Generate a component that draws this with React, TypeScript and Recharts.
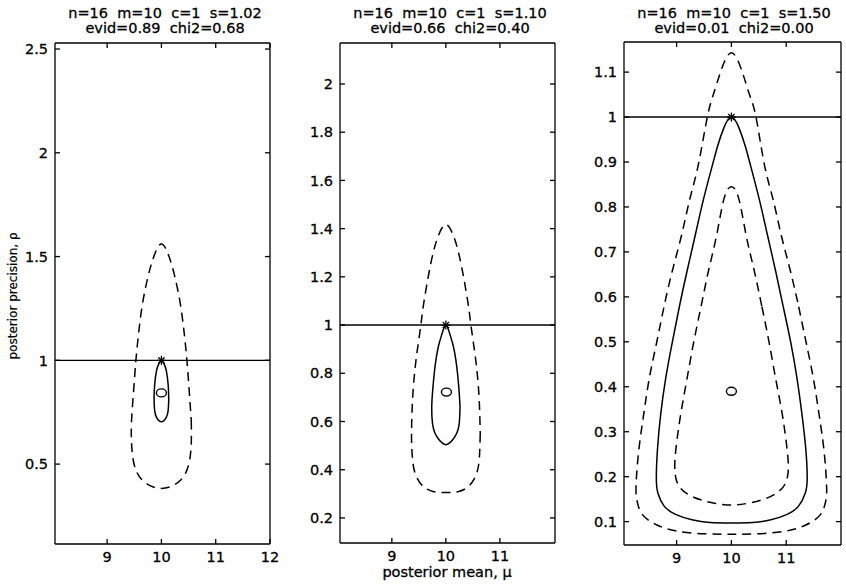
import React from 'react';
import { ScatterChart, Scatter, XAxis, YAxis, ReferenceLine } from 'recharts';

type Pt = { x: number; y: number };

const FONT = '"DejaVu Sans", sans-serif';

// ---- panel 1 : s=1.02 ----
const p1Title = ['n=16  m=10  c=1  s=1.02', 'evid=0.89  chi2=0.68'];
const p1Dashed: Pt[] = [
  { x: 10.55, y: 0.71 }, { x: 10.55, y: 0.6 }, { x: 10.52, y: 0.52 }, { x: 10.46, y: 0.465 },
  { x: 10.36, y: 0.425 }, { x: 10.2, y: 0.395 }, { x: 10.0, y: 0.383 }, { x: 9.8, y: 0.395 },
  { x: 9.64, y: 0.425 }, { x: 9.54, y: 0.465 }, { x: 9.48, y: 0.52 }, { x: 9.45, y: 0.6 },
  { x: 9.45, y: 0.71 }, { x: 9.49, y: 0.86 },
  { x: 9.53, y: 1.0 }, { x: 9.58, y: 1.13 }, { x: 9.65, y: 1.27 }, { x: 9.75, y: 1.4 },
  { x: 9.86, y: 1.5 }, { x: 10.0, y: 1.56 }, { x: 10.14, y: 1.5 }, { x: 10.25, y: 1.4 },
  { x: 10.35, y: 1.27 }, { x: 10.42, y: 1.13 }, { x: 10.47, y: 1.0 }, { x: 10.51, y: 0.86 },
  { x: 10.55, y: 0.71 },
];
const p1Solid: Pt[] = [
  { x: 10.135, y: 0.81 }, { x: 10.125, y: 0.76 }, { x: 10.09, y: 0.725 }, { x: 10.0, y: 0.704 },
  { x: 9.91, y: 0.725 }, { x: 9.875, y: 0.76 }, { x: 9.865, y: 0.81 }, { x: 9.875, y: 0.88 },
  { x: 9.91, y: 0.95 }, { x: 9.955, y: 0.985 }, { x: 10.0, y: 1.0 }, { x: 10.045, y: 0.985 },
  { x: 10.09, y: 0.95 }, { x: 10.125, y: 0.88 }, { x: 10.135, y: 0.81 },
];
const p1Star: Pt[] = [{ x: 10, y: 1 }];
const p1Mode: Pt[] = [{ x: 10, y: 0.843 }];
const p1XTicks = [9, 10, 11, 12];
const p1YTicks = [0.5, 1, 1.5, 2, 2.5];

// ---- panel 2 : s=1.10 ----
const p2Title = ['n=16  m=10  c=1  s=1.10', 'evid=0.66  chi2=0.40'];
const p2Dashed: Pt[] = [
  { x: 10.636, y: 0.55 }, { x: 10.62, y: 0.45 }, { x: 10.57, y: 0.385 }, { x: 10.44, y: 0.335 },
  { x: 10.24, y: 0.31 }, { x: 10.0, y: 0.305 }, { x: 9.76, y: 0.31 }, { x: 9.56, y: 0.335 },
  { x: 9.43, y: 0.385 }, { x: 9.38, y: 0.45 }, { x: 9.364, y: 0.55 }, { x: 9.383, y: 0.69 },
  { x: 9.42, y: 0.8 }, { x: 9.47, y: 0.894 }, { x: 9.537, y: 1.0 }, { x: 9.58, y: 1.076 },
  { x: 9.673, y: 1.2 }, { x: 9.765, y: 1.3 }, { x: 9.86, y: 1.37 }, { x: 10.0, y: 1.417 },
  { x: 10.14, y: 1.37 }, { x: 10.235, y: 1.3 }, { x: 10.327, y: 1.2 }, { x: 10.42, y: 1.076 },
  { x: 10.463, y: 1.0 }, { x: 10.53, y: 0.894 }, { x: 10.58, y: 0.8 }, { x: 10.617, y: 0.69 },
  { x: 10.636, y: 0.55 },
];
const p2Solid: Pt[] = [
  { x: 10.262, y: 0.66 }, { x: 10.247, y: 0.591 }, { x: 10.205, y: 0.553 }, { x: 10.13, y: 0.525 },
  { x: 10.0, y: 0.504 }, { x: 9.87, y: 0.525 }, { x: 9.795, y: 0.553 }, { x: 9.753, y: 0.591 },
  { x: 9.738, y: 0.66 }, { x: 9.76, y: 0.74 }, { x: 9.8, y: 0.83 }, { x: 9.86, y: 0.91 },
  { x: 9.93, y: 0.965 }, { x: 10.0, y: 1.0 }, { x: 10.07, y: 0.965 }, { x: 10.14, y: 0.91 },
  { x: 10.2, y: 0.83 }, { x: 10.24, y: 0.74 }, { x: 10.262, y: 0.66 },
];
const p2Star: Pt[] = [{ x: 10, y: 1 }];
const p2Mode: Pt[] = [{ x: 10.01, y: 0.722 }];
const p2XTicks = [9, 10, 11];
const p2YTicks = [0.2, 0.4, 0.6, 0.8, 1, 1.2, 1.4, 1.6, 1.8, 2];

// ---- panel 3 : s=1.50 ----
const p3Title = ['n=16  m=10  c=1  s=1.50', 'evid=0.01  chi2=0.00'];
const p3Outer: Pt[] = [
  { x: 11.228, y: 0.578 }, { x: 11.365, y: 0.498 }, { x: 11.497, y: 0.418 }, { x: 11.599, y: 0.339 },
  { x: 11.689, y: 0.259 }, { x: 11.737, y: 0.18 }, { x: 11.72, y: 0.145 }, { x: 11.62, y: 0.115 },
  { x: 11.35, y: 0.092 }, { x: 11.0, y: 0.079 }, { x: 10.5, y: 0.073 }, { x: 10.0, y: 0.072 },
  { x: 9.5, y: 0.073 }, { x: 9.0, y: 0.079 }, { x: 8.65, y: 0.092 }, { x: 8.38, y: 0.115 },
  { x: 8.28, y: 0.145 }, { x: 8.26, y: 0.18 }, { x: 8.31, y: 0.259 }, { x: 8.4, y: 0.339 },
  { x: 8.5, y: 0.418 }, { x: 8.635, y: 0.498 }, { x: 8.77, y: 0.578 }, { x: 8.92, y: 0.657 },
  { x: 9.09, y: 0.737 }, { x: 9.24, y: 0.817 }, { x: 9.4, y: 0.896 }, { x: 9.56, y: 1.0 },
  { x: 9.67, y: 1.05 }, { x: 9.79, y: 1.096 }, { x: 10.0, y: 1.143 }, { x: 10.21, y: 1.096 },
  { x: 10.33, y: 1.05 }, { x: 10.449, y: 1.0 }, { x: 10.599, y: 0.896 }, { x: 10.76, y: 0.817 },
  { x: 10.91, y: 0.737 }, { x: 11.078, y: 0.657 }, { x: 11.228, y: 0.578 },
];
const p3Solid: Pt[] = [
  { x: 10.946, y: 0.578 }, { x: 11.084, y: 0.498 }, { x: 11.198, y: 0.418 }, { x: 11.287, y: 0.339 },
  { x: 11.359, y: 0.259 }, { x: 11.383, y: 0.195 }, { x: 11.347, y: 0.163 }, { x: 11.228, y: 0.135 },
  { x: 11.018, y: 0.116 }, { x: 10.719, y: 0.104 }, { x: 10.389, y: 0.098 }, { x: 10.0, y: 0.097 },
  { x: 9.61, y: 0.098 }, { x: 9.28, y: 0.104 }, { x: 8.98, y: 0.116 }, { x: 8.77, y: 0.135 },
  { x: 8.66, y: 0.163 }, { x: 8.63, y: 0.195 }, { x: 8.65, y: 0.259 }, { x: 8.71, y: 0.339 },
  { x: 8.8, y: 0.418 }, { x: 8.92, y: 0.498 }, { x: 9.05, y: 0.578 }, { x: 9.19, y: 0.657 },
  { x: 9.34, y: 0.737 }, { x: 9.49, y: 0.817 }, { x: 9.66, y: 0.896 }, { x: 9.75, y: 0.936 },
  { x: 9.862, y: 0.976 }, { x: 10.0, y: 1.0 }, { x: 10.138, y: 0.976 }, { x: 10.251, y: 0.936 },
  { x: 10.341, y: 0.896 }, { x: 10.509, y: 0.817 }, { x: 10.659, y: 0.737 }, { x: 10.808, y: 0.657 },
  { x: 10.946, y: 0.578 },
];
const p3Inner: Pt[] = [
  { x: 10.557, y: 0.578 }, { x: 10.689, y: 0.498 }, { x: 10.808, y: 0.418 }, { x: 10.928, y: 0.339 },
  { x: 11.018, y: 0.259 }, { x: 11.036, y: 0.211 }, { x: 10.95, y: 0.178 }, { x: 10.7, y: 0.155 },
  { x: 10.35, y: 0.142 }, { x: 10.0, y: 0.137 }, { x: 9.65, y: 0.142 }, { x: 9.3, y: 0.155 },
  { x: 9.05, y: 0.178 }, { x: 8.97, y: 0.211 }, { x: 8.985, y: 0.259 }, { x: 9.075, y: 0.339 },
  { x: 9.19, y: 0.418 }, { x: 9.31, y: 0.498 }, { x: 9.445, y: 0.578 }, { x: 9.58, y: 0.657 },
  { x: 9.73, y: 0.737 }, { x: 9.862, y: 0.817 }, { x: 10.0, y: 0.845 }, { x: 10.138, y: 0.817 },
  { x: 10.269, y: 0.737 }, { x: 10.419, y: 0.657 }, { x: 10.557, y: 0.578 },
];
const p3Star: Pt[] = [{ x: 10, y: 1 }];
const p3Mode: Pt[] = [{ x: 10, y: 0.39 }];
const p3XTicks = [9, 10, 11];
const p3YTicks = [0.1, 0.2, 0.3, 0.4, 0.5, 0.6, 0.7, 0.8, 0.9, 1, 1.1];

const TICK_LEN = 5;
const X_GAP = 8; // axis line to top of x tick label
const Y_GAP = 7; // axis line to end of y tick label
const LINE = { stroke: '#000', strokeWidth: 1.3 };
const TEXT = {
  fill: '#000', stroke: '#000', strokeWidth: 0.3, fontSize: 14.5, fontFamily: FONT,
};

// MATLAB-style ticks: short marks pointing into the box
const BottomTick = (props: any) => {
  const { x, y, payload } = props;
  const axisY = y - X_GAP;
  return (
    <g>
      <line x1={x} y1={axisY} x2={x} y2={axisY - TICK_LEN} {...LINE} />
      <text x={x} y={y} dy="0.71em" textAnchor="middle" {...TEXT}>{payload.value}</text>
    </g>
  );
};
const LeftTick = (props: any) => {
  const { x, y, payload } = props;
  const axisX = x + Y_GAP;
  return (
    <g>
      <line x1={axisX} y1={y} x2={axisX + TICK_LEN} y2={y} {...LINE} />
      <text x={x} y={y} dy="0.36em" textAnchor="end" {...TEXT}>{payload.value}</text>
    </g>
  );
};
const TopTick = (props: any) => (
  <line x1={props.x} y1={props.y} x2={props.x} y2={props.y + TICK_LEN} {...LINE} />
);
const RightTick = (props: any) => (
  <line x1={props.x} y1={props.y} x2={props.x - TICK_LEN} y2={props.y} {...LINE} />
);

const NoDot = () => <g />;

const StarShape = (props: any) => {
  const { cx, cy } = props;
  const r = 4.5;
  const d = r * 0.7;
  return (
    <g stroke="#000" strokeWidth={1.3}>
      <line x1={cx - r} y1={cy} x2={cx + r} y2={cy} />
      <line x1={cx} y1={cy - r} x2={cx} y2={cy + r} />
      <line x1={cx - d} y1={cy - d} x2={cx + d} y2={cy + d} />
      <line x1={cx - d} y1={cy + d} x2={cx + d} y2={cy - d} />
    </g>
  );
};

const RingShape = (props: any) => (
  <ellipse cx={props.cx} cy={props.cy} rx={5} ry={4} fill="none" stroke="#000" strokeWidth={1.4} />
);

interface PanelProps {
  left: number;
  width: number;
  margin: { top: number; right: number; bottom: number; left: number };
  xDomain: [number, number];
  yDomain: [number, number];
  xTicks: number[];
  yTicks: number[];
  solid: Pt[][];
  dashed: Pt[][];
  star: Pt[];
  mode: Pt[];
  title: string[];
  titleX: number;
}

const Panel: React.FC<PanelProps> = (p) => (
  <>
    <div
      style={{
        position: 'absolute', left: p.titleX - 150, top: 6, width: 300, textAlign: 'center',
        fontFamily: FONT, fontSize: 14.5, lineHeight: '15px', whiteSpace: 'pre', color: '#000',
        WebkitTextStroke: '0.3px #000',
      }}
    >
      {p.title[0]}
      {'\n'}
      {p.title[1]}
    </div>
    <div style={{ position: 'absolute', left: p.left, top: 0 }}>
      <ScatterChart width={p.width} height={584} margin={p.margin}>
        <XAxis
          type="number" dataKey="x" domain={p.xDomain} ticks={p.xTicks} interval={0}
          allowDataOverflow height={30} tickSize={0} tickMargin={X_GAP}
          tick={BottomTick} tickLine={false} axisLine={LINE}
        />
        <XAxis
          xAxisId="top" orientation="top" type="number" dataKey="x" domain={p.xDomain}
          ticks={p.xTicks} interval={0} allowDataOverflow height={1} tickSize={0} tickMargin={0}
          tick={TopTick} tickLine={false} axisLine={LINE}
        />
        <YAxis
          type="number" dataKey="y" domain={p.yDomain} ticks={p.yTicks} interval={0}
          allowDataOverflow width={55} tickSize={0} tickMargin={Y_GAP}
          tick={LeftTick} tickLine={false} axisLine={LINE}
        />
        <YAxis
          yAxisId="right" orientation="right" type="number" dataKey="y" domain={p.yDomain}
          ticks={p.yTicks} interval={0} allowDataOverflow width={1} tickSize={0} tickMargin={0}
          tick={RightTick} tickLine={false} axisLine={LINE}
        />
        <ReferenceLine y={1} stroke="#000" strokeWidth={1.4} />
        {p.dashed.map((d, i) => (
          <Scatter
            key={'d' + i} data={d} fill="#000" shape={NoDot} lineJointType="natural"
            line={{ stroke: '#000', strokeWidth: 1.5, strokeDasharray: '9 6' }}
            isAnimationActive={false}
          />
        ))}
        {p.solid.map((d, i) => (
          <Scatter
            key={'s' + i} data={d} fill="#000" shape={NoDot} lineJointType="natural"
            line={{ stroke: '#000', strokeWidth: 1.5 }}
            isAnimationActive={false}
          />
        ))}
        <Scatter
          data={p.star} xAxisId="top" yAxisId="right" fill="#000" shape={StarShape}
          isAnimationActive={false}
        />
        <Scatter data={p.mode} fill="#000" shape={RingShape} isAnimationActive={false} />
      </ScatterChart>
    </div>
  </>
);

export default function App() {
  return (
    <div
      style={{
        position: 'absolute', left: 0, top: 0, width: 846, height: 584,
        background: '#fff', overflow: 'hidden',
      }}
    >
      <Panel
        left={0} width={280} margin={{ top: 42, right: 9, bottom: 10, left: 0 }}
        xDomain={[8.04, 12]} yDomain={[0.115, 2.529]} xTicks={p1XTicks} yTicks={p1YTicks}
        dashed={[p1Dashed]} solid={[p1Solid]} star={p1Star} mode={p1Mode}
        title={p1Title} titleX={165}
      />
      <Panel
        left={285} width={280} margin={{ top: 42, right: 9, bottom: 11, left: 0 }}
        xDomain={[8.04, 12.02]} yDomain={[0.096, 2.17]} xTicks={p2XTicks} yTicks={p2YTicks}
        dashed={[p2Dashed]} solid={[p2Solid]} star={p2Star} mode={p2Mode}
        title={p2Title} titleX={450}
      />
      <Panel
        left={569} width={277} margin={{ top: 41, right: 4, bottom: 9, left: 0 }}
        xDomain={[8.04, 12]} yDomain={[0.048, 1.167]} xTicks={p3XTicks} yTicks={p3YTicks}
        dashed={[p3Outer, p3Inner]} solid={[p3Solid]} star={p3Star} mode={p3Mode}
        title={p3Title} titleX={734}
      />
      <div
        style={{
          position: 'absolute', left: 13, top: 296, transform: 'translate(-50%, -50%) rotate(-90deg)',
          whiteSpace: 'nowrap', fontFamily: FONT, fontSize: 12, color: '#000',
          WebkitTextStroke: '0.2px #000',
        }}
      >
        posterior precision, ρ
      </div>
      <div
        style={{
          position: 'absolute', left: 297, top: 565, width: 300, textAlign: 'center',
          fontFamily: FONT, fontSize: 14.5, lineHeight: '15px', color: '#000',
          WebkitTextStroke: '0.3px #000',
        }}
      >
        posterior mean, μ
      </div>
    </div>
  );
}
